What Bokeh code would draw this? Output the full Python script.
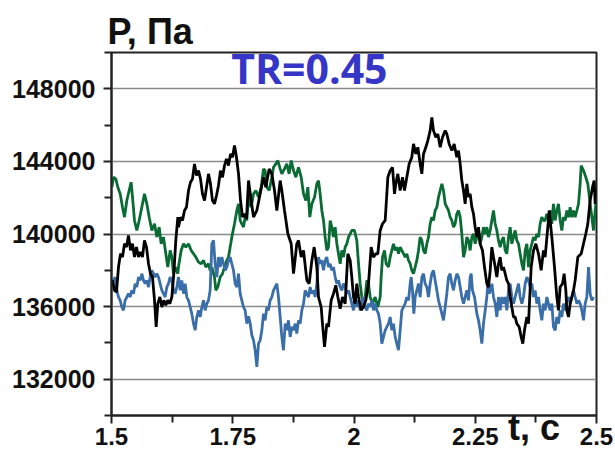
from bokeh.plotting import figure
from bokeh.models import FixedTicker, Label, Range1d
from bokeh.embed import file_html
from bokeh.resources import INLINE

# ---- data (t in s, P in Pa) ----
T_BLACK = [1.5021, 1.5062, 1.5103, 1.5144, 1.5186, 1.5227, 1.5268, 1.5309, 1.5350, 1.5392,
           1.5433, 1.5474, 1.5515, 1.5557, 1.5598, 1.5639, 1.5680, 1.5722, 1.5763, 1.5804,
           1.5845, 1.5887, 1.5921, 1.5955, 1.5997, 1.6038, 1.6079, 1.6120, 1.6161, 1.6203,
           1.6244, 1.6285, 1.6326, 1.6368,
           1.6381, 1.6423, 1.6464, 1.6505, 1.6546, 1.6588, 1.6629, 1.6670, 1.6711, 1.6753,
           1.6794, 1.6835, 1.6876, 1.6918, 1.6959, 1.7000, 1.7041, 1.7082, 1.7124, 1.7165,
           1.7206, 1.7247, 1.7289, 1.7330, 1.7371, 1.7412, 1.7454, 1.7495, 1.7536, 1.7577,
           1.7619, 1.7660, 1.7701, 1.7742, 1.7784,
           1.7825, 1.7880, 1.7928, 1.7997, 1.8065, 1.8134, 1.8182, 1.8251, 1.8306, 1.8361,
           1.8409, 1.8478, 1.8512, 1.8567, 1.8636, 1.8705, 1.8753, 1.8821, 1.8856, 1.8911,
           1.8959, 1.9028, 1.9076, 1.9131, 1.9179, 1.9234,
           1.9268, 1.9323, 1.9350, 1.9392, 1.9440, 1.9474, 1.9529, 1.9577, 1.9625, 1.9667,
           1.9715, 1.9763, 1.9818, 1.9873, 1.9921, 1.9955, 1.9990, 2.0024, 2.0058, 2.0093,
           2.0148, 2.0196, 2.0244, 2.0299, 2.0354, 2.0402, 2.0450, 2.0491, 2.0540, 2.0588,
           2.0643, 2.0698,
           2.0746, 2.0794, 2.0835, 2.0862, 2.0904, 2.0952, 2.1000, 2.1041, 2.1089, 2.1137,
           2.1192, 2.1227, 2.1275, 2.1316, 2.1364, 2.1399, 2.1433, 2.1481, 2.1522, 2.1570,
           2.1605, 2.1639, 2.1687, 2.1728, 2.1777, 2.1825, 2.1880, 2.1914, 2.1962, 2.2017,
           2.2065, 2.2120,
           2.2155, 2.2189, 2.2223, 2.2258, 2.2292, 2.2326, 2.2361, 2.2395, 2.2430, 2.2464,
           2.2498, 2.2533, 2.2567, 2.2601, 2.2649, 2.2691, 2.2739, 2.2773, 2.2808, 2.2842,
           2.2876, 2.2911, 2.2945, 2.2979, 2.3014, 2.3048, 2.3082, 2.3117, 2.3151, 2.3186,
           2.3220, 2.3254, 2.3289, 2.3323, 2.3357, 2.3406, 2.3447, 2.3481, 2.3515, 2.3564,
           2.3598, 2.3653, 2.3701, 2.3749, 2.3804, 2.3859, 2.3907, 2.3941, 2.3996, 2.4024,
           2.4079, 2.4134, 2.4182, 2.4216, 2.4251, 2.4299, 2.4333, 2.4368, 2.4388, 2.4423,
           2.4457, 2.4526, 2.4560, 2.4615, 2.4684, 2.4732, 2.4780, 2.4821, 2.4869, 2.4918,
           2.4952, 2.4973]
P_BLACK = [137445, 136895, 136803, 138178, 138912, 138728, 139462, 139278, 139920, 139095,
           139462, 138728, 139278, 138728, 139003, 138728, 139645, 139278, 138362, 137812,
           137628, 136345, 134878, 136162, 136528, 135978, 136345, 136070, 136345, 136162,
           136528, 137812, 139645, 140928,
           140378, 140928, 140745, 141295, 141478, 142395, 142853, 143037, 143862, 143220,
           143495, 143037, 142212, 141845, 142578, 143312, 142762, 141845, 141662, 142120,
           142670, 143495, 143128, 143770, 144137, 143770, 144412, 144228, 144870, 144228,
           143312, 141845, 140928, 141112, 140837,
           142945, 141845, 140928, 141295, 142212, 143128, 142578, 143587, 143312, 142395,
           141295, 142945, 142395, 141295, 140012, 139462, 137812, 139462, 139645, 138728,
           139095, 137445, 137262, 138545, 139278, 138178,
           136528, 135978, 135062, 133778, 135062, 134878, 136345, 136712, 137170, 136528,
           135887, 136528, 136162, 138912, 138545, 137628, 136528, 136162, 137262, 136528,
           135795, 135978, 136345, 137262, 139278, 138728, 138912, 138912, 140195, 140562,
           140745, 143128,
           143495, 143678, 142212, 142762, 143312, 142395, 143128, 142395, 143128, 143862,
           144228, 144962, 144412, 144778, 143862, 143312, 144412, 144778, 145145, 145695,
           146428, 145695, 145328, 145512, 144778, 145328, 145695, 145512, 144962, 144595,
           144962, 144228,
           144595, 143862, 142945, 142395, 141662, 142762, 142028, 142212, 141478, 141112,
           140378, 139828, 140378, 139462, 139095, 138178, 137262, 137078, 137995, 139278,
           138728, 138178, 137628, 138362, 138728, 137995, 138178, 137812, 137445, 137262,
           136528, 135978, 135428, 135428, 135062, 134878, 134328, 133962, 134695, 135428,
           135062, 138178, 139095, 139462, 138912, 137995, 139095, 138728, 140378, 141295,
           139828, 138178, 136528, 135795, 137078, 137262, 137812, 136895, 135795, 135428,
           136162, 136895, 137445, 138728, 138912, 139462, 140012, 140562, 141845, 142578,
           142945, 141662]

T_GREEN = [1.5007, 1.5041, 1.5089, 1.5131, 1.5179, 1.5227, 1.5268, 1.5316, 1.5364, 1.5405,
           1.5433, 1.5474, 1.5522, 1.5570, 1.5625, 1.5680, 1.5728, 1.5777, 1.5832, 1.5887,
           1.5935, 1.5983, 1.6024, 1.6072, 1.6120, 1.6161, 1.6210, 1.6244, 1.6278, 1.6313,
           1.6368,
           1.6381, 1.6436, 1.6485, 1.6533, 1.6588, 1.6643, 1.6691, 1.6739, 1.6794, 1.6849,
           1.6897, 1.6945, 1.7000, 1.7034, 1.7069, 1.7124, 1.7151, 1.7192, 1.7241, 1.7289,
           1.7330, 1.7378, 1.7412, 1.7447, 1.7481, 1.7536, 1.7584, 1.7619, 1.7653, 1.7687,
           1.7722, 1.7756, 1.7790,
           1.7825, 1.7880, 1.7928, 1.7976, 1.8031, 1.8086, 1.8134, 1.8168, 1.8203, 1.8251,
           1.8306, 1.8340, 1.8388, 1.8430, 1.8478, 1.8512, 1.8567, 1.8615, 1.8663, 1.8705,
           1.8753, 1.8801, 1.8856, 1.8911, 1.8959, 1.9007, 1.9048, 1.9089, 1.9131, 1.9186,
           1.9234,
           1.9268, 1.9302, 1.9337, 1.9371, 1.9405, 1.9440, 1.9474, 1.9509, 1.9543, 1.9577,
           1.9612, 1.9646, 1.9680, 1.9715, 1.9749, 1.9783, 1.9818, 1.9852, 1.9887, 1.9921,
           1.9955, 2.0010, 2.0058, 2.0093, 2.0127, 2.0161, 2.0196, 2.0230, 2.0265, 2.0299,
           2.0333, 2.0381, 2.0436, 2.0491, 2.0540, 2.0560, 2.0588, 2.0629, 2.0663, 2.0711,
           2.0746, 2.0780, 2.0814, 2.0849, 2.0883, 2.0917, 2.0952, 2.0986, 2.1021, 2.1055,
           2.1089, 2.1124, 2.1158, 2.1192, 2.1227, 2.1261, 2.1296, 2.1330, 2.1364, 2.1399,
           2.1433, 2.1467, 2.1502, 2.1536, 2.1570, 2.1605, 2.1639, 2.1673, 2.1708, 2.1742,
           2.1777, 2.1811, 2.1845, 2.1880, 2.1914, 2.1948, 2.1983, 2.2017, 2.2052, 2.2086,
           2.2120,
           2.2155, 2.2189, 2.2223, 2.2258, 2.2292, 2.2326, 2.2361, 2.2395, 2.2430, 2.2464,
           2.2498, 2.2533, 2.2567, 2.2601, 2.2636, 2.2670, 2.2705, 2.2739, 2.2773, 2.2808,
           2.2842, 2.2876, 2.2911, 2.2945, 2.2979, 2.3014, 2.3048, 2.3082, 2.3117, 2.3151,
           2.3186, 2.3220, 2.3254, 2.3289, 2.3323, 2.3357, 2.3392, 2.3426, 2.3461, 2.3495,
           2.3529, 2.3564,
           2.3598, 2.3632, 2.3667, 2.3701, 2.3735, 2.3770, 2.3804, 2.3838, 2.3873, 2.3907,
           2.3941, 2.3976, 2.4010, 2.4045, 2.4079, 2.4113, 2.4148, 2.4182, 2.4216, 2.4251,
           2.4285, 2.4319, 2.4354, 2.4388, 2.4423, 2.4457, 2.4491, 2.4526, 2.4560, 2.4595,
           2.4629, 2.4663, 2.4684, 2.4732, 2.4780, 2.4821, 2.4869, 2.4904, 2.4938, 2.4973,
           2.5000]
P_GREEN = [142578, 143128, 143037, 142578, 142212, 141478, 140928, 141845, 142395, 142853,
           142028, 140745, 140195, 140745, 141478, 142212, 141662, 140928, 140195, 140562,
           139828, 140378, 139462, 139828, 138912, 138178, 139095, 138728, 137812, 138178,
           137812,
           138178, 139095, 139462, 139278, 139462, 139095, 138912, 138728, 138453, 138362,
           138545, 138178, 138362, 137995, 138178, 137628, 136895, 137078, 137628, 137812,
           138178, 138545, 138728, 139278, 139828, 140562, 141295, 141662, 140745, 140562,
           140378, 140928, 140745,
           142028, 141478, 142212, 142395, 142028, 142578, 143587, 143495, 142578, 142395,
           143128, 143678, 143862, 144045, 143587, 143312, 143587, 143862, 143312, 144045,
           143495, 143128, 143678, 143128, 142212, 141845, 142578, 140928, 141662, 142028,
           142762,
           142945, 142212, 141295, 140745, 139828, 139095, 139278, 140745, 140378, 139828,
           140378, 139462, 138912, 138362, 139095, 138728, 139278, 139462, 139828, 140012,
           140195, 140195, 139645, 138362, 137262, 136528, 135978, 136528, 137445, 137262,
           136528, 136162, 136528, 135978, 136528, 137628, 138728, 139095, 138362, 138178,
           138728, 139095, 139462, 139095, 139278, 138912, 139278, 139095, 138912, 138728,
           138912, 138545, 138362, 137995, 137812, 138178, 138545, 139095, 139828, 139645,
           139095, 138912, 139462, 139828, 140562, 140928, 140745, 141295, 141478, 142028,
           142395, 142762, 142395, 141662, 141478, 141295, 140928, 140745, 140378, 140562,
           141112,
           141295, 140928, 140012, 138728, 139095, 139828, 139645, 139095, 139828, 140012,
           139462, 139828, 140195, 139462, 139828, 140378, 140012, 140378, 139828, 140195,
           140745, 141295, 140562, 140195, 139645, 139278, 139645, 139828, 139095, 138912,
           139828, 140378, 139462, 139828, 140195, 139645, 139462, 138912, 138362, 137995,
           139095, 139462,
           138178, 139095, 139462, 139828, 139645, 140012, 139828, 140562, 140928, 140745,
           140745, 141112, 140745, 141295, 140562, 141662, 140745, 141295, 141662, 140745,
           140195, 140928, 140745, 141295, 140928, 141478, 140928, 141295, 140928, 141295,
           141662, 142762, 143770, 143495, 143128, 142762, 141662, 140928, 140195, 141295,
           142028]

T_BLUE = [1.5007, 1.5041, 1.5076, 1.5110, 1.5144, 1.5179, 1.5213, 1.5247, 1.5282, 1.5316,
          1.5350, 1.5385, 1.5419, 1.5454, 1.5488, 1.5522, 1.5557, 1.5591, 1.5625, 1.5660,
          1.5694, 1.5728, 1.5763, 1.5797, 1.5832, 1.5866, 1.5900, 1.5935, 1.5969, 1.6003,
          1.6038, 1.6072, 1.6106, 1.6141, 1.6175, 1.6209, 1.6244, 1.6278, 1.6313, 1.6347,
          1.6381, 1.6416, 1.6450, 1.6485, 1.6519, 1.6553, 1.6588, 1.6622, 1.6656, 1.6691,
          1.6725, 1.6759, 1.6794, 1.6828, 1.6863, 1.6897, 1.6931, 1.6966, 1.7000, 1.7034,
          1.7069, 1.7103, 1.7137, 1.7172, 1.7206, 1.7241, 1.7275, 1.7309, 1.7344, 1.7378,
          1.7412, 1.7447, 1.7481, 1.7515, 1.7550, 1.7584, 1.7619, 1.7653, 1.7687, 1.7722,
          1.7756, 1.7790,
          1.7825, 1.7859, 1.7894, 1.7928, 1.7962, 1.7997, 1.8031, 1.8065, 1.8100, 1.8134,
          1.8168, 1.8203, 1.8237, 1.8271, 1.8306, 1.8340, 1.8374, 1.8409, 1.8443, 1.8478,
          1.8512, 1.8546, 1.8581, 1.8615, 1.8649, 1.8684, 1.8718, 1.8753, 1.8787, 1.8821,
          1.8856, 1.8890, 1.8924, 1.8959, 1.8993, 1.9028, 1.9062, 1.9096, 1.9131, 1.9165,
          1.9199, 1.9234,
          1.9268, 1.9302, 1.9337, 1.9371, 1.9405, 1.9440, 1.9474, 1.9509, 1.9543, 1.9577,
          1.9612, 1.9646, 1.9680, 1.9715, 1.9749, 1.9783, 1.9818, 1.9852, 1.9887, 1.9921,
          1.9955, 1.9990, 2.0024, 2.0058, 2.0093, 2.0127, 2.0161, 2.0196, 2.0230, 2.0265,
          2.0299, 2.0333, 2.0368, 2.0402, 2.0436, 2.0471, 2.0505, 2.0540, 2.0574, 2.0608,
          2.0643, 2.0677,
          2.0711, 2.0746, 2.0780, 2.0814, 2.0849, 2.0883, 2.0917, 2.0952, 2.0986, 2.1021,
          2.1055, 2.1089, 2.1124, 2.1158, 2.1179, 2.1206, 2.1234, 2.1261, 2.1296, 2.1330,
          2.1364, 2.1399, 2.1433, 2.1467, 2.1502, 2.1536, 2.1570, 2.1605, 2.1639, 2.1673,
          2.1708, 2.1742, 2.1777, 2.1811, 2.1845, 2.1880, 2.1914, 2.1948, 2.1983, 2.2017,
          2.2052, 2.2086, 2.2120,
          2.2155, 2.2189, 2.2223, 2.2258, 2.2292, 2.2326, 2.2361, 2.2395, 2.2416, 2.2443,
          2.2485, 2.2533, 2.2567, 2.2601, 2.2636, 2.2670, 2.2705, 2.2739, 2.2760, 2.2787,
          2.2814, 2.2842, 2.2876, 2.2911, 2.2945, 2.2979, 2.3014, 2.3048, 2.3082, 2.3117,
          2.3151, 2.3186, 2.3220, 2.3254, 2.3289, 2.3323, 2.3357, 2.3392, 2.3426, 2.3461,
          2.3495, 2.3529, 2.3564,
          2.3598, 2.3632, 2.3667, 2.3701, 2.3735, 2.3770, 2.3804, 2.3838, 2.3873, 2.3907,
          2.3941, 2.3976, 2.4010, 2.4045, 2.4079, 2.4113, 2.4148, 2.4182, 2.4216, 2.4251,
          2.4285, 2.4319, 2.4354, 2.4388, 2.4423, 2.4457, 2.4491, 2.4526, 2.4560, 2.4595,
          2.4629, 2.4663, 2.4698, 2.4732, 2.4766, 2.4801, 2.4835, 2.4869, 2.4904, 2.4938]
P_BLUE = [137262, 137445, 137628, 136895, 136528, 136345, 135978, 135795, 136345, 136528,
          136712, 136528, 136895, 136712, 137262, 137078, 137628, 137445, 137812, 137445,
          137262, 137445, 137078, 137628, 137995, 137812, 137628, 137812, 137628, 137262,
          136895, 136712, 136528, 137078, 137262, 137628, 137445, 136895, 136712, 137078,
          137628, 136895, 137445, 136712, 137262, 136528, 136345, 135978, 135612, 135062,
          134695, 135428, 135795, 135428, 135978, 136345, 135795, 136162, 136345, 136895,
          139462, 139645, 138362, 137628, 138728, 138178, 138728, 138362, 137995, 138178,
          138545, 138728, 138362, 137995, 137262, 137078, 137812, 136712, 136345, 135978,
          135795, 135062,
          135465, 135080, 134420, 134145, 133595, 132678, 133962, 134145, 134695, 135612,
          135245, 135978, 135795, 136345, 136528, 136895, 137078, 137262, 136528, 135428,
          134328, 133595, 135062, 134695, 135245, 134328, 134878, 134695, 135062, 134512,
          135245, 135062, 135795, 136162, 136895, 136712, 136528, 137078, 136712, 136895,
          136528, 137262,
          138728, 138362, 138545, 137995, 138545, 138728, 138178, 138362, 137995, 138178,
          137628, 137262, 137445, 137078, 136895, 137262, 137078, 136712, 136895, 136528,
          136162, 135795, 136528, 135978, 136345, 135795, 136162, 136528, 135978, 135795,
          136162, 135978, 136345, 135795, 136162, 135795, 135612, 135062, 133962, 134328,
          134695, 134878,
          135062, 135428, 134695, 135062, 134328, 133962, 133595, 134695, 135795, 135978,
          136162, 136528, 136345, 137262, 137628, 136895, 135612, 136528, 136895, 137262,
          136528, 137628, 137812, 137262, 137078, 136528, 137262, 137812, 137995, 137445,
          136895, 136345, 135978, 135612, 135245, 135978, 136712, 137628, 137812, 137262,
          136895, 137445, 137812,
          137628, 137078, 136528, 136162, 136528, 136895, 136345, 137628, 137812, 136895,
          136528, 135612, 135245, 134695, 133962, 135062, 135795, 136528, 137262, 136712,
          136895, 137262, 136528, 136162, 135428, 136528, 135795, 136528, 136162, 136528,
          135795, 136895, 137262, 136528, 136162, 136528, 136895, 137262, 136528, 136162,
          136528, 137262, 137628,
          137445, 137078, 137262, 136528, 136895, 136162, 136528, 135795, 135245, 136162,
          135795, 136528, 136162, 135795, 136162, 134878, 134695, 135428, 135062, 135795,
          135428, 136162, 135795, 136345, 136528, 136162, 136528, 136895, 136528, 136162,
          136345, 136162, 135795, 135245, 136162, 136528, 138178, 136712, 136345, 136528]

X_TICKS = [1.5, 1.75, 2.0, 2.25, 2.5]
X_TICK_LABELS = ["1.5", "1.75", "2", "2.25", "2.5"]
X_MINOR = [1.625, 1.875, 2.125, 2.375]
Y_TICKS = [132000, 136000, 140000, 144000, 148000]
Y_TICK_LABELS = ["132000", "136000", "140000", "144000", "148000"]
Y_MINOR = [130000, 134000, 138000, 142000, 146000, 150000]
Y_TITLE = "P, Па"
X_TITLE = "t, c"
NOTE = "TR=0.45"

FONT = "Liberation Sans"

p = figure(width=615, height=456,
           x_range=Range1d(1.5, 2.5), y_range=Range1d(130000, 150000),
           output_backend="svg", toolbar_location=None,
           min_border_left=111, min_border_right=19,
           min_border_top=52, min_border_bottom=41)

p.background_fill_color = "white"
p.border_fill_color = "white"
p.outline_line_color = "#222222"
p.outline_line_width = 2

# y-axis caption as the plot title, at the top left
p.title.text = Y_TITLE
p.title.align = "left"
p.title.offset = -4
p.title.standoff = 2
p.title.text_font = FONT
p.title.text_font_style = "bold"
p.title.text_font_size = "36px"
p.title.text_color = "#111111"

p.xgrid.visible = False
p.ygrid.ticker = FixedTicker(ticks=Y_TICKS)
p.ygrid.grid_line_color = "#8a8a8a"
p.ygrid.grid_line_width = 1.5

for ax in (p.xaxis[0], p.yaxis[0]):
    ax.axis_line_color = "#222222"
    ax.axis_line_width = 2
    ax.major_tick_line_color = "#222222"
    ax.major_tick_line_width = 2
    ax.minor_tick_line_color = "#222222"
    ax.minor_tick_line_width = 2
    ax.major_tick_in = 0
    ax.major_tick_out = 8
    ax.minor_tick_in = 0
    ax.minor_tick_out = 7
    ax.major_label_text_font = FONT
    ax.major_label_text_font_style = "bold"
    ax.major_label_text_color = "#111111"

xa = p.xaxis[0]
xa.ticker = FixedTicker(ticks=X_TICKS, minor_ticks=X_MINOR)
xa.major_label_overrides = dict(zip(X_TICKS, X_TICK_LABELS))
xa.major_label_text_font_size = "24px"
xa.major_label_standoff = 4
# x-axis caption sits on the same line as the tick labels, between 2.25 and 2.5
xa.axis_label = "\u00a0" * 36 + X_TITLE
xa.axis_label_text_font = FONT
xa.axis_label_text_font_style = "bold"
xa.axis_label_text_font_size = "36px"
xa.axis_label_text_color = "#111111"
xa.axis_label_standoff = -41

ya = p.yaxis[0]
ya.ticker = FixedTicker(ticks=Y_TICKS, minor_ticks=Y_MINOR)
ya.major_label_overrides = dict(zip(Y_TICKS, Y_TICK_LABELS))
ya.major_label_text_font_size = "25px"
ya.major_label_standoff = 8

p.line(T_GREEN, P_GREEN, line_color="#0b6b34", line_width=2.8)
p.line(T_BLUE, P_BLUE, line_color="#3a6ea8", line_width=2.8)
p.line(T_BLACK, P_BLACK, line_color="#000000", line_width=2.8)

p.add_layout(Label(x=1.908, y=149160, text=NOTE, text_font="Open Sans",
                   text_font_style="bold", text_font_size="41px",
                   text_color="#3535c8", text_align="center",
                   text_baseline="alphabetic"))

open("out.html", "w").write(file_html(p, INLINE))
